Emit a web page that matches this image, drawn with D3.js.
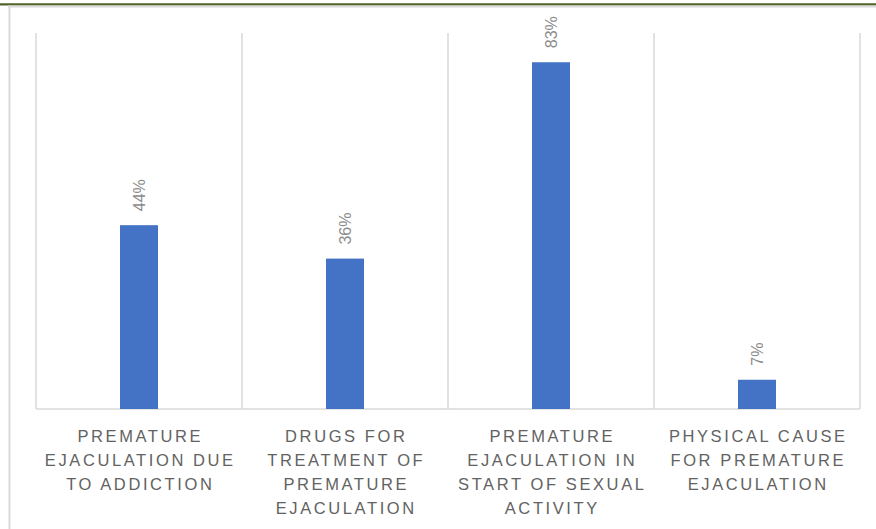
<!doctype html>
<html lang="en">
<head>
<meta charset="UTF-8">
<title>Premature ejaculation survey</title>
<style type="text/css">
body {
  margin: 0;
  padding: 0;
  background: #ffffff;
}
svg {
  display: block;
}
</style>
<script type="text/javascript" src="https://cdn.jsdelivr.net/npm/d3@7"></script>
</head>
<body>
<div id="chart"></div>
<script type="text/javascript">

// categories, wrapped the same way as the source chart
var categories = [
  'PREMATURE\nEJACULATION DUE\nTO ADDICTION',
  'DRUGS FOR\nTREATMENT OF\nPREMATURE\nEJACULATION',
  'PREMATURE\nEJACULATION IN\nSTART OF SEXUAL\nACTIVITY',
  'PHYSICAL CAUSE\nFOR PREMATURE\nEJACULATION'
];
var values = [0.44, 0.36, 0.83, 0.07];
var yMax = 0.9;

var W = 876, H = 529;
var plot = { left: 36, right: 860, top: 33, bottom: 409 };

var svg = d3.select('#chart').append('svg')
  .attr('width', W)
  .attr('height', H);

// frame: green top rule plus light grey edges
svg.append('rect').attr('x', 0).attr('y', 0).attr('width', W).attr('height', H).attr('fill', '#fff');
svg.append('line')
  .attr('x1', 0).attr('x2', W).attr('y1', 4.3).attr('y2', 4.3)
  .attr('stroke', '#4f6228').attr('stroke-width', 2.2);
svg.append('line')
  .attr('x1', 8).attr('x2', W).attr('y1', 6.4).attr('y2', 6.4)
  .attr('stroke', '#d9d9d9').attr('stroke-width', 2);
svg.append('line')
  .attr('x1', 9.5).attr('x2', 9.5).attr('y1', 5.5).attr('y2', H)
  .attr('stroke', '#d9d9d9').attr('stroke-width', 2);

var x = d3.scaleBand()
  .domain(categories)
  .range([plot.left, plot.right])
  .paddingInner(0)
  .paddingOuter(0);

var y = d3.scaleLinear()
  .domain([0, yMax])
  .range([plot.bottom, plot.top]);

// vertical gridlines between categories
var edges = categories.map(function(c) { return x(c); }).concat([plot.right]);
svg.selectAll('line.grid').data(edges)
  .enter().append('line')
  .attr('class', 'grid')
  .attr('x1', function(d) { return d; })
  .attr('x2', function(d) { return d; })
  .attr('y1', plot.top)
  .attr('y2', plot.bottom)
  .attr('stroke', '#d9d9d9')
  .attr('stroke-width', 1.5);

// baseline
svg.append('line')
  .attr('x1', plot.left).attr('x2', plot.right)
  .attr('y1', plot.bottom).attr('y2', plot.bottom)
  .attr('stroke', '#d9d9d9')
  .attr('stroke-width', 1.5);

var barW = 38;

svg.selectAll('rect.bar').data(values)
  .enter().append('rect')
  .attr('class', 'bar')
  .attr('x', function(d, i) { return x(categories[i]) + x.bandwidth() / 2 - barW / 2; })
  .attr('y', function(d) { return y(d); })
  .attr('width', barW)
  .attr('height', function(d) { return y(0) - y(d); })
  .attr('fill', '#4472c4');

// value labels, rotated
svg.selectAll('text.value').data(values)
  .enter().append('text')
  .attr('class', 'value')
  .attr('transform', function(d, i) {
    var cx = x(categories[i]) + x.bandwidth() / 2;
    return 'translate(' + (cx + 6) + ',' + (y(d) - 14) + ') rotate(-90)';
  })
  .attr('text-anchor', 'start')
  .style('font-family', "'Liberation Sans', 'DejaVu Sans', sans-serif")
  .style('font-size', '16px')
  .attr('fill', '#8c8c8c')
  .text(function(d) { return Math.round(d * 100) + '%'; });

// category labels
var catLabels = svg.selectAll('text.cat').data(categories)
  .enter().append('text')
  .attr('class', 'cat')
  .attr('text-anchor', 'middle')
  .style('font-family', "'Liberation Sans', 'DejaVu Sans', sans-serif")
  .style('font-size', '16.5px')
  .style('letter-spacing', '2.6px')
  .attr('fill', '#626262');

catLabels.each(function(d) {
  var cx = x(d) + x.bandwidth() / 2 + 1.3;
  var t = d3.select(this);
  d.split('\n').forEach(function(line, k) {
    t.append('tspan')
      .attr('x', cx)
      .attr('y', 442 + k * 24)
      .text(line);
  });
});

</script>
</body>
</html>
